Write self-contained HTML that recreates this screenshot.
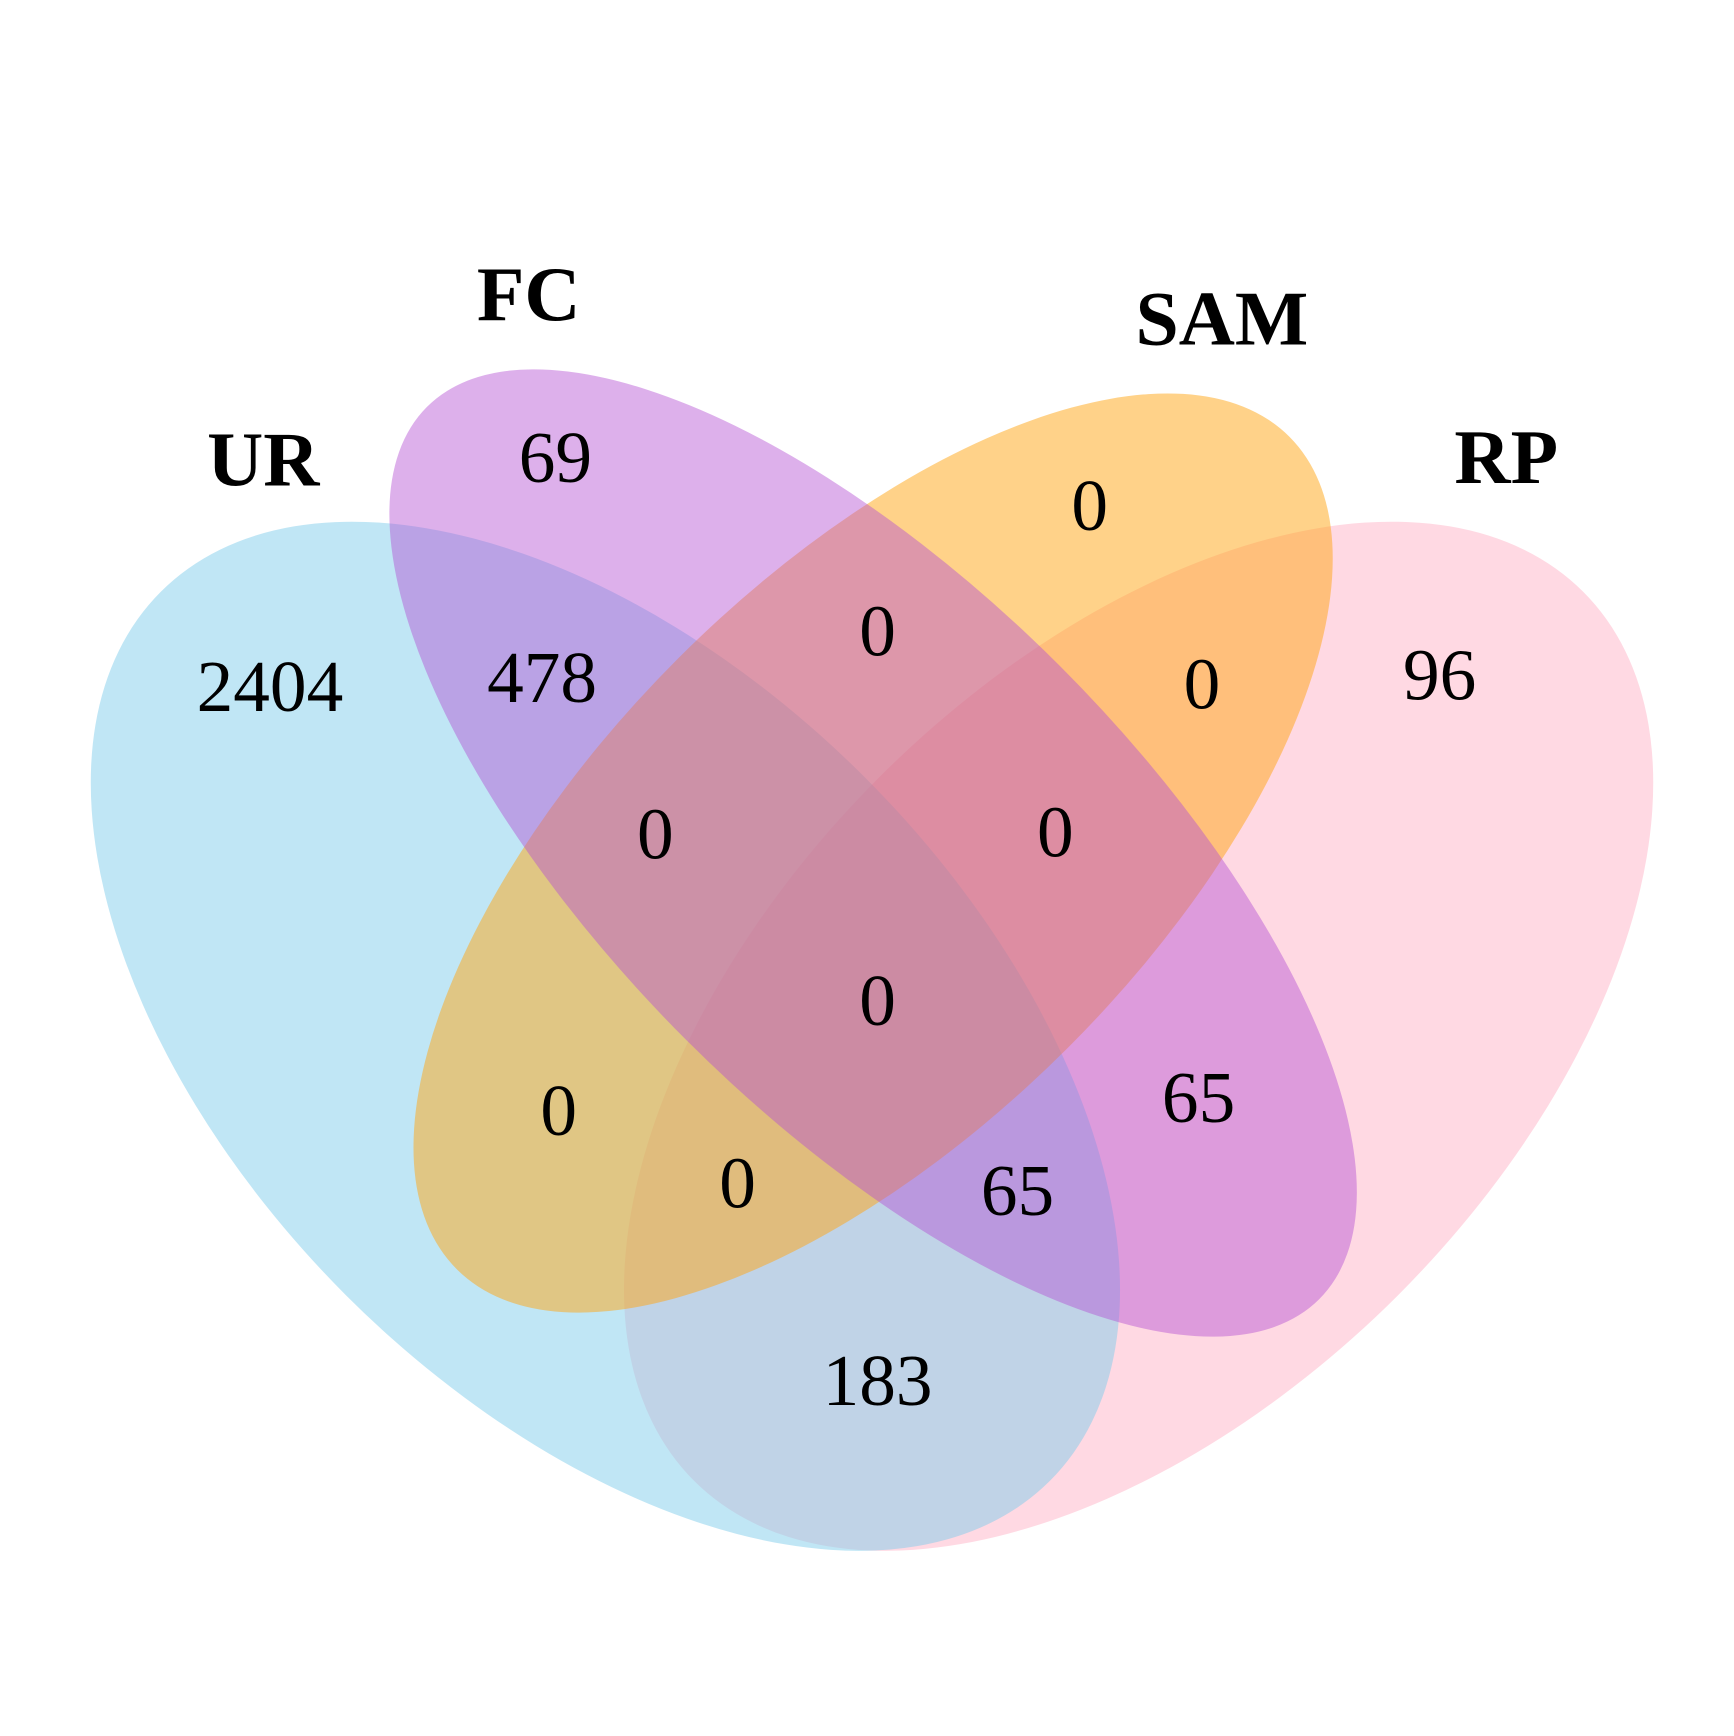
<!DOCTYPE html>
<html><head><meta charset="utf-8"><style>
html,body{margin:0;padding:0;background:#fff;width:1734px;height:1736px;overflow:hidden}
svg{display:block}
</style></head><body>
<svg id="venn" width="1734" height="1736" viewBox="0 0 1561 1563" preserveAspectRatio="none" xmlns="http://www.w3.org/2000/svg">
<rect width="1561" height="1563" fill="#fff"/>
<g id="sets"></g><g id="counts"></g><g id="labels"></g>
</svg>
<script>
const setNames = ["RP", "UR", "SAM", "FC"];
const setColors = ["rgb(255,180,200)", "rgb(130,205,235)", "rgb(255,165,20)", "rgb(180,80,210)"];
const setOpacity = [0.5, 0.5, 0.5, 0.45];
const regionCounts = [2404, 69, 478, 0, 0, 0, 96, 0, 0, 0, 0, 65, 0, 65, 183];
const regionNames = ["ur-only","fc-only","ur-fc","sam-only","fc-sam","sam-rp","rp-only","ur-fc-sam","fc-sam-rp","all-four","ur-sam","fc-rp","ur-sam-rp","ur-fc-rp","ur-rp"];

const NS = "http://www.w3.org/2000/svg";
const geom = [
  {cx:1025, cy:933, a:566, b:330, r:-45},
  {cx:545, cy:933, a:566, b:330, r:45},
  {cx:786, cy:768, a:530, b:248, r:-45},
  {cx:786, cy:768, a:568, b:238, r:45}
];
const regionPos = [[243,640],[500,434],[488,632],[981,477],[790,590],[1082,638],[1296,630],[590,773],[950,771],[790,923],[503,1022],[1079,1010],[664,1087],[916,1094],[790,1265]];
const labelPos = [[237,437],[1356,435],[1100,310],[476,288]];
const labelIdx = [1,0,2,3];

const gs = document.getElementById('sets');
setNames.forEach((n,i)=>{
  const g = geom[i];
  const e = document.createElementNS(NS,'ellipse');
  e.setAttribute('cx',g.cx); e.setAttribute('cy',g.cy);
  e.setAttribute('rx',g.a); e.setAttribute('ry',g.b);
  e.setAttribute('transform',`rotate(${g.r} ${g.cx} ${g.cy})`);
  e.setAttribute('fill',setColors[i]); e.setAttribute('fill-opacity',setOpacity[i]);
  
  
  gs.appendChild(e);
});
const gc = document.getElementById('counts');
regionCounts.forEach((v,i)=>{
  const t = document.createElementNS(NS,'text');
  t.setAttribute('x',regionPos[i][0]); t.setAttribute('y',regionPos[i][1]);
  t.setAttribute('text-anchor','middle');
  t.setAttribute('font-family','"Liberation Serif", serif');
  t.setAttribute('font-size','66');
  t.textContent = v;
  
  
  gc.appendChild(t);
});
const gl = document.getElementById('labels');
["UR","RP","SAM","FC"].forEach((n,i)=>{
  const t = document.createElementNS(NS,'text');
  t.setAttribute('x',labelPos[i][0]); t.setAttribute('y',labelPos[i][1]);
  t.setAttribute('text-anchor','middle');
  t.setAttribute('font-family','"Liberation Serif", serif');
  t.setAttribute('font-weight','bold');
  t.setAttribute('font-size','70');
  t.textContent = n;
  
  
  gl.appendChild(t);
});
</script>
</body></html>
